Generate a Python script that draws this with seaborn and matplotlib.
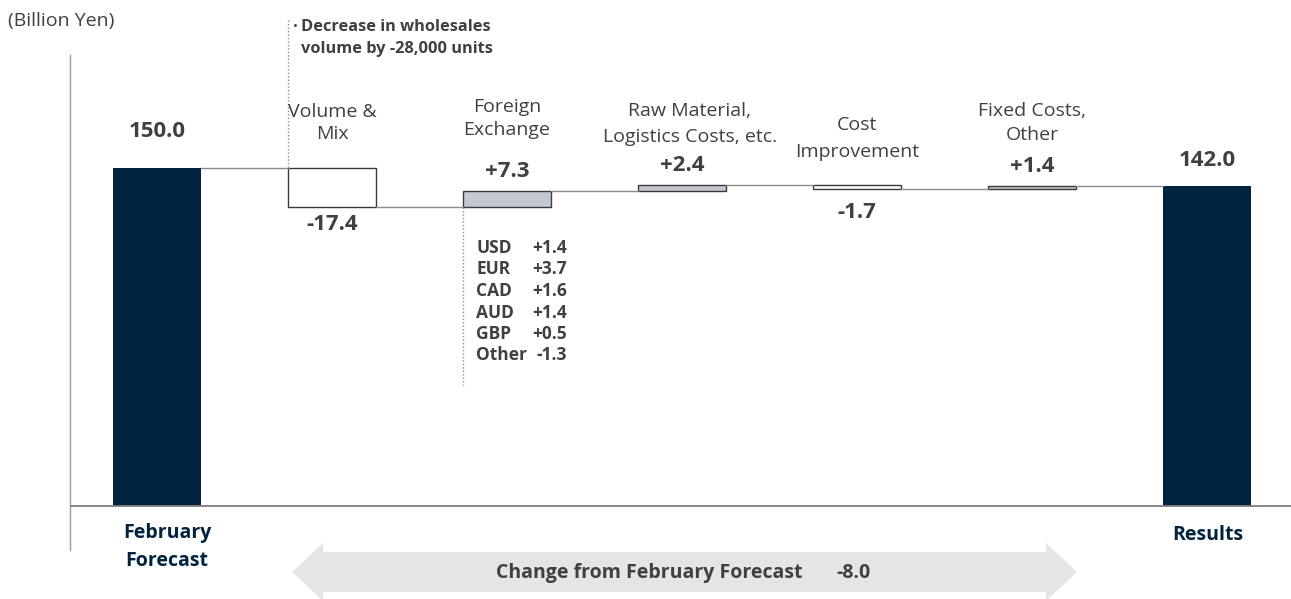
import matplotlib
matplotlib.use("Agg")
import matplotlib.pyplot as plt
import seaborn as sns
import numpy as np
import pandas as pd
from matplotlib.patches import Polygon

# ---------------- data ----------------
categories = ["February\nForecast", "Volume &\nMix", "Foreign\nExchange",
              "Raw Material,\nLogistics Costs, etc.", "Cost\nImprovement",
              "Fixed Costs,\nOther", "Results"]
start_value = 150.0
deltas = [-17.4, 7.3, 2.4, -1.7, 1.4]
end_value = 142.0
value_labels = ["150.0", "-17.4", "+7.3", "+2.4", "-1.7", "+1.4", "142.0"]
fx_currencies = ["USD", "EUR", "CAD", "AUD", "GBP", "Other"]
fx_values = ["+1.4", "+3.7", "+1.6", "+1.4", "+0.5", "-1.3"]
volume_note = ["Decrease in wholesales", "volume by -28,000 units"]
change_text = "Change from February Forecast"
change_value = "-8.0"
unit_label = "(Billion Yen)"

# ---------------- derived waterfall geometry ----------------
bottoms, heights, kinds = [0.0], [start_value], ["total"]
level = start_value
levels = [level]
for d in deltas:
    new = level + d
    bottoms.append(min(level, new))
    heights.append(abs(d))
    kinds.append("pos" if d > 0 else "neg")
    level = new
    levels.append(level)
bottoms.append(0.0)
heights.append(end_value)
kinds.append("total")
levels.append(end_value)

df = pd.DataFrame({"category": categories, "height": heights})

# ---------------- style ----------------
sns.set_theme(style="white")
FONT = ["Open Sans", "DejaVu Sans"]
plt.rcParams["font.family"] = FONT

NAVY = "#002340"
GRAY_BAR = "#c5c8d0"
TXT = "#404040"
LINE = "#8a8a8a"
face = {"total": NAVY, "pos": GRAY_BAR, "neg": "#ffffff"}
edge = {"total": NAVY, "pos": "#3a3a3a", "neg": "#3a3a3a"}

W, H = 1291, 599
fig = plt.figure(figsize=(W / 100, H / 100), dpi=100)
ax_left, ax_right, ax_top, ax_bot = 70, 1291, 55, 550
ax = fig.add_axes([ax_left / W, 1 - ax_bot / H, (ax_right - ax_left) / W, (ax_bot - ax_top) / H])

BAR_W = 0.5
sns.barplot(data=df, x="category", y="height", order=categories, ax=ax,
            bottom=np.array(bottoms), width=BAR_W, errorbar=None, color=GRAY_BAR,
            linewidth=1.0)
for p, k in zip(ax.patches, kinds):
    p.set_facecolor(face[k])
    p.set_edgecolor(edge[k])
    p.set_linewidth(1.0 if k != "total" else 0)

# pixel-based layout: baseline at 506 px, 2.253 px per unit, bars 175 px apart
PX_PER_UNIT = 2.253
BASE_PX = 506
STEP_PX = 175
X0_PX = 157
ax.set_ylim(-(ax_bot - BASE_PX) / PX_PER_UNIT, (BASE_PX - ax_top) / PX_PER_UNIT)
ax.set_xlim((ax_left - X0_PX) / STEP_PX, (ax_right - X0_PX) / STEP_PX)

def py(px):
    return (BASE_PX - px) / PX_PER_UNIT

def px_x(px):
    return (px - X0_PX) / STEP_PX

ax.set_xticks([])
ax.set_yticks([])
ax.set_xlabel("")
ax.set_ylabel("")
for s in ["top", "right", "bottom"]:
    ax.spines[s].set_visible(False)
ax.spines["left"].set_color("#9a9a9a")
ax.spines["left"].set_linewidth(1.0)
ax.axhline(0, color="#7f7f7f", lw=1.3, zorder=3)

# connectors
for i in range(len(categories) - 1):
    ax.plot([i + BAR_W / 2, i + 1 - BAR_W / 2], [levels[i], levels[i]],
            color=LINE, lw=1.0, zorder=1)

# value labels
offsets_px = [37, 17, 19, 19.5, 23, 20, 26]
for i, (lab, k) in enumerate(zip(value_labels, kinds)):
    top = bottoms[i] + heights[i]
    if k == "neg":
        y = bottoms[i] - offsets_px[i] / PX_PER_UNIT
    else:
        y = top + offsets_px[i] / PX_PER_UNIT
    ax.text(i, y, lab, ha="center", va="center", fontsize=16,
            fontweight="bold", color=TXT)

# category labels above bars (middle categories), one text per line
cat_line_px = [None, (112, 134), (107, 130), (111, 137), (125, 152), (111, 135), None]
cat_dx = [0, 0, 0, 0.045, 0, 0, 0]
for i, c in enumerate(categories):
    if cat_line_px[i] is None:
        continue
    for line, ypx in zip(c.split("\n"), cat_line_px[i]):
        ax.text(i + cat_dx[i], py(ypx), line, ha="center", va="center",
                fontsize=14, color=TXT)

# bottom labels for totals
for line, ypx in zip(categories[0].split("\n"), (533, 561)):
    ax.text(px_x(167), py(ypx), line, ha="center", va="center", fontsize=14,
            fontweight="bold", color=NAVY, clip_on=False)
ax.text(px_x(1208), py(535), categories[-1], ha="center", va="center", fontsize=14,
        fontweight="bold", color=NAVY, clip_on=False)

# dotted note lines
ax.plot([1 - BAR_W / 2] * 2, [py(20), levels[0]], color=LINE, lw=1.0,
        ls=(0, (1, 1.5)), clip_on=False)
ax.plot([2 - BAR_W / 2] * 2, [levels[1], py(385)], color=LINE, lw=1.0,
        ls=(0, (1, 1.5)), clip_on=False)

# volume note
ax.text(px_x(293), py(27), "\u00b7", ha="left", va="center", fontsize=12,
        fontweight="bold", color=TXT, clip_on=False)
for line, ypx in zip(volume_note, (27, 49)):
    ax.text(px_x(301), py(ypx), line, ha="left", va="center", fontsize=11.8,
            fontweight="bold", color=TXT, clip_on=False)

# FX breakdown
for j, (cur, val) in enumerate(zip(fx_currencies, fx_values)):
    yy = py(248 + 21.5 * j)
    ax.text(px_x(476), yy, cur, ha="left", va="center", fontsize=12.5,
            fontweight="bold", color=TXT)
    ax.text(px_x(567), yy, val, ha="right", va="center", fontsize=12.5,
            fontweight="bold", color=TXT)

# unit label
fig.text(8 / W, 1 - 21 / H, unit_label, ha="left", va="center", fontsize=14, color=TXT)

# double arrow at the bottom
def fp(x, y):
    return (x / W, 1 - y / H)

arrow_pts = [fp(292, 572), fp(323, 543), fp(323, 552), fp(1046, 552), fp(1046, 543),
             fp(1077, 572), fp(1046, 601), fp(1046, 592), fp(323, 592), fp(323, 601)]
fig.patches.append(Polygon(arrow_pts, closed=True, transform=fig.transFigure,
                           facecolor="#e5e5e5", edgecolor="none", zorder=0))
fig.text(496 / W, 1 - 573 / H, change_text, ha="left", va="center", fontsize=14,
         fontweight="bold", color=TXT)
fig.text(871 / W, 1 - 573 / H, change_value, ha="right", va="center", fontsize=14,
         fontweight="bold", color=TXT)

fig.savefig("out.png", dpi=100, facecolor="white")
